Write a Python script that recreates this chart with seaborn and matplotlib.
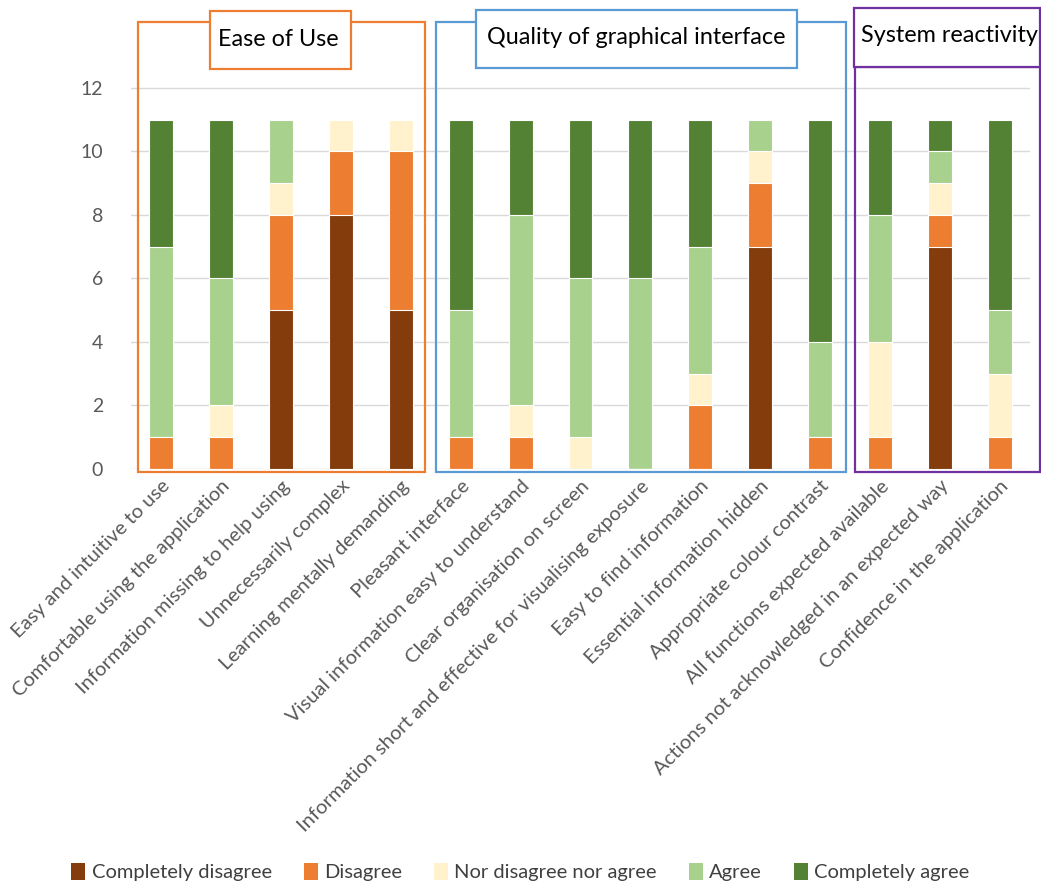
import pandas as pd
import matplotlib.pyplot as plt
import seaborn as sns
from matplotlib.patches import Rectangle, Patch

sns.set_theme(style="white")
plt.rcParams['font.family'] = ['Lato', 'DejaVu Sans']

questions = [
    "Easy and intuitive to use",
    "Comfortable using the application",
    "Information missing to help using",
    "Unnecessarily complex",
    "Learning mentally demanding",
    "Pleasant interface",
    "Visual information easy to understand",
    "Clear organisation on screen",
    "Information short and effective for visualising exposure",
    "Easy to find information",
    "Essential information hidden",
    "Appropriate colour contrast",
    "All functions expected available",
    "Actions not acknowledged in an expected way",
    "Confidence in the application",
]
levels = ["Completely disagree", "Disagree", "Nor disagree nor agree", "Agree", "Completely agree"]
completely_disagree = [0, 0, 5, 8, 5, 0, 0, 0, 0, 0, 7, 0, 0, 7, 0]
disagree = [1, 1, 3, 2, 5, 1, 1, 0, 0, 2, 2, 1, 1, 1, 1]
neutral = [0, 1, 1, 1, 1, 0, 1, 1, 0, 1, 1, 0, 3, 1, 2]
agree = [6, 4, 2, 0, 0, 4, 6, 5, 6, 4, 1, 3, 4, 1, 2]
completely_agree = [4, 5, 0, 0, 0, 6, 3, 5, 5, 4, 0, 7, 3, 1, 6]
colors = ["#843C0C", "#ED7D31", "#FFF2CC", "#A9D18E", "#548235"]

groups = ["Ease of Use", "Quality of graphical interface", "System reactivity"]

df = pd.DataFrame({"question": questions,
                   levels[0]: completely_disagree,
                   levels[1]: disagree,
                   levels[2]: neutral,
                   levels[3]: agree,
                   levels[4]: completely_agree})
cum = df[levels].cumsum(axis=1)

W, H = 1041, 885
fig = plt.figure(figsize=(W / 100, H / 100), dpi=100)
ax = fig.add_axes([131 / W, 1 - 469 / H, (1030 - 131) / W, (469 - 20) / H])

# stacked bars: draw cumulative totals from the top level down
for lev, col in zip(levels[::-1], colors[::-1]):
    sns.barplot(x=df["question"], y=cum[lev], color=col, width=0.4, saturation=1,
                edgecolor="white", linewidth=0.8, ax=ax, zorder=3)

ax.set_ylim(0, 14.14)
ax.set_xlim(-0.5, 14.5)
ax.set_yticks(range(0, 13, 2))
ax.yaxis.grid(True, color="#D9D9D9", linewidth=1, zorder=0)
ax.set_axisbelow(True)
for s in ax.spines.values():
    s.set_visible(False)
ax.set_xlabel("")
ax.set_ylabel("")
ax.tick_params(axis="y", labelsize=14, labelcolor="#595959", length=0, pad=20)
ax.tick_params(axis="x", labelsize=14.5, labelcolor="#595959", length=0, pad=6)
plt.setp(ax.get_xticklabels(), rotation=45, ha="right", rotation_mode="anchor")

# group boxes (pixel coords from the top-left corner)
def box(x0, y0, x1, y1, col, fill=False):
    r = Rectangle((x0 / W, 1 - y1 / H), (x1 - x0) / W, (y1 - y0) / H,
                  transform=fig.transFigure, fill=fill, facecolor="white",
                  edgecolor=col, linewidth=1.6, zorder=10)
    fig.add_artist(r)

box(138, 22, 425, 472, "#ED7D31")
box(210, 11, 351, 69, "#ED7D31", fill=True)
box(436, 22, 846, 472, "#5B9BD5")
box(476, 10, 797, 68, "#5B9BD5", fill=True)
box(855, 67, 1040, 472, "#7030A0")
box(854, 8, 1040, 67, "#7030A0", fill=True)
for g, (cx, cy) in zip(groups, [(278, 39), (636, 38), (949, 36)]):
    fig.text(cx / W, 1 - cy / H, g, ha="center", va="center", fontsize=16.8,
             color="black", zorder=11)

handles = [Patch(facecolor=c, edgecolor="none") for c in colors]
fig.legend(handles, levels, loc="center", bbox_to_anchor=(0.5, 1 - 872 / H),
           ncol=5, frameon=False, fontsize=14.5, handlelength=0.7, handleheight=0.9,
           handletextpad=0.3, columnspacing=1.6, labelcolor="#404040")

fig.savefig("out.png", dpi=100)
